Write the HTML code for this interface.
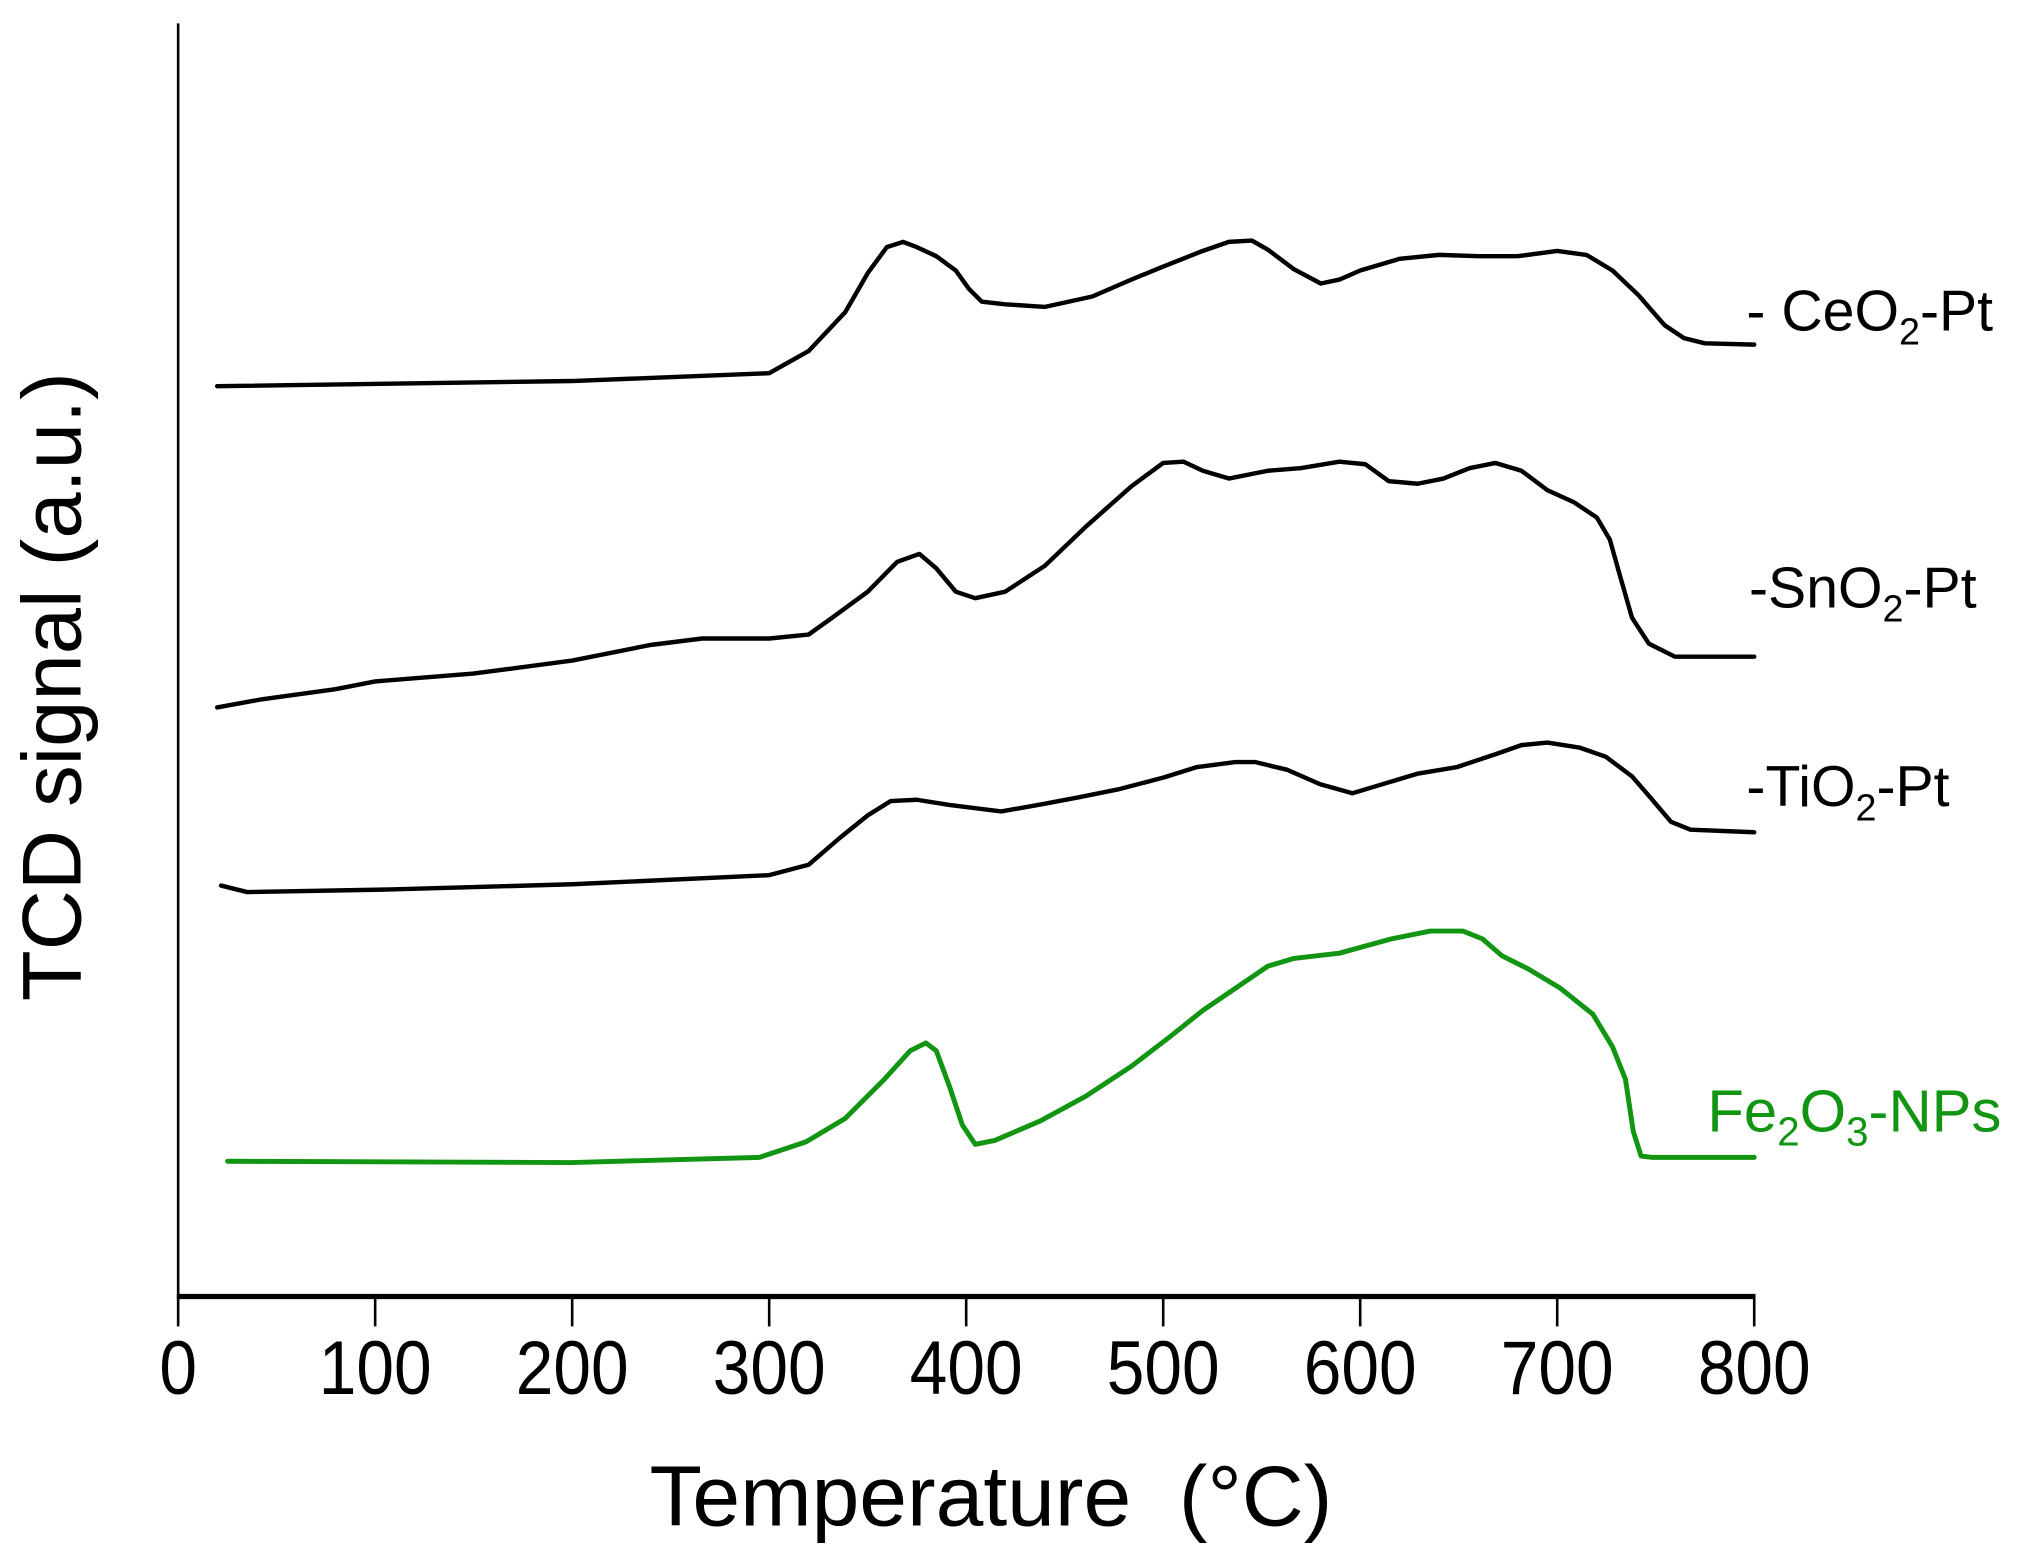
<!DOCTYPE html>
<html><head><meta charset="utf-8"><style>
html,body{margin:0;padding:0;background:#fff}
svg{display:block}
text{font-family:"Liberation Sans",sans-serif}
</style></head><body>
<svg width="2039" height="1561" viewBox="0 0 1568 1200.4" xmlns="http://www.w3.org/2000/svg">
<rect width="1568" height="1201" fill="#fff"/>
<line x1="137" y1="18" x2="137" y2="998" stroke="#000" stroke-width="2"/>
<line x1="136" y1="997" x2="1350" y2="997" stroke="#000" stroke-width="4"/>
<g stroke="#000" stroke-width="2">
<line x1="137" y1="997" x2="137" y2="1020"/><line x1="288.5" y1="997" x2="288.5" y2="1020"/><line x1="440" y1="997" x2="440" y2="1020"/><line x1="591.5" y1="997" x2="591.5" y2="1020"/><line x1="743" y1="997" x2="743" y2="1020"/><line x1="894.5" y1="997" x2="894.5" y2="1020"/><line x1="1046" y1="997" x2="1046" y2="1020"/><line x1="1197.5" y1="997" x2="1197.5" y2="1020"/><line x1="1349" y1="997" x2="1349" y2="1020"/>
</g>
<g font-size="52" text-anchor="middle" fill="#000" transform="translate(0,1072) scale(1,1.12) translate(0,-1072)">
<text x="137" y="1072">0</text><text x="288.5" y="1072">100</text><text x="440" y="1072">200</text><text x="591.5" y="1072">300</text><text x="743" y="1072">400</text><text x="894.5" y="1072">500</text><text x="1046" y="1072">600</text><text x="1197.5" y="1072">700</text><text x="1349" y="1072">800</text>
</g>
<text x="762" y="1173" font-size="66" text-anchor="middle" fill="#000" xml:space="preserve">Temperature  (°C)</text>
<text transform="translate(62,528) rotate(-90)" font-size="64" text-anchor="middle" fill="#000">TCD signal (a.u.)</text>
<g fill="none" stroke="#000" stroke-width="3.4" stroke-linejoin="round" stroke-linecap="round">
<polyline points="167,297 440,293 591.5,287 621.8,270 650,240 667.3,210 682,190 694.5,186 705,190 720,197 735,208 745,222 755,232 773,234 803.6,236 840,228 870,215 894.5,205 924.8,193 945,186 962.7,185 975,192 995,207 1015.7,218 1030,215 1046,208 1076.3,199 1106.6,196 1137,197 1167,197 1197.5,193 1220,196 1240,208 1260,227 1280,250 1295,260 1311,264 1349,265"/>
<polyline points="167,544 200,538 258,530 288.5,524 364,518 440,508 500,496 540,491 591.5,491 621.8,488 640,475 667.3,455 690,432 707,426 720,437 735,455 750,460 773,455 803.6,435 835,405 870,374 894.5,356 910,355 925,362 945,368 975,362 1000,360 1030,355 1050,357 1068,370 1090,372 1110,368 1130,360 1150,356 1170,362 1190,377 1210,386 1228,398 1238,415 1245,440 1255,475 1268,495 1288,505 1349,505"/>
<polyline points="170,681 190,686 300,684 440,680 591.5,673 621.8,665 645,645 667.3,627 685,616 705,615 730,619 770,624 803.6,618 830,613 860,607 894.5,598 920,590 950,586 965,586 990,592 1015,603 1040,610 1060,604 1090,595 1120,590 1150,580 1170,573 1190,571 1215,575 1235,582 1255,597 1268,612 1285,632 1300,638 1349,640"/>
</g>
<polyline fill="none" stroke="#129512" stroke-width="3.8" stroke-linejoin="round" stroke-linecap="round" points="175,893 440,894 584,890 620,878 650,860 680,830 700,808 712,802 720,808 730,835 740,865 750,880 765,877 800,862 835,843 870,820 900,797 925,777 950,760 975,743 995,737 1030,733 1070,722 1100,716 1125,716 1140,722 1155,735 1175,745 1200,760 1225,780 1240,805 1250,830 1256,870 1262,889 1270,890 1349,890"/>
<g font-size="44" fill="#000">
<text x="1343" y="254">- CeO<tspan font-size="29" dy="11">2</tspan><tspan dy="-11">-Pt</tspan></text>
<text x="1345" y="467">-SnO<tspan font-size="29" dy="11">2</tspan><tspan dy="-11">-Pt</tspan></text>
<text x="1343" y="620">-TiO<tspan font-size="29" dy="11">2</tspan><tspan dy="-11">-Pt</tspan></text>
<text x="1313" y="870" fill="#129512" font-size="46">Fe<tspan font-size="31" dy="11">2</tspan><tspan dy="-11">O</tspan><tspan font-size="31" dy="11">3</tspan><tspan dy="-11">-NPs</tspan></text>
</g>
</svg>
</body></html>
